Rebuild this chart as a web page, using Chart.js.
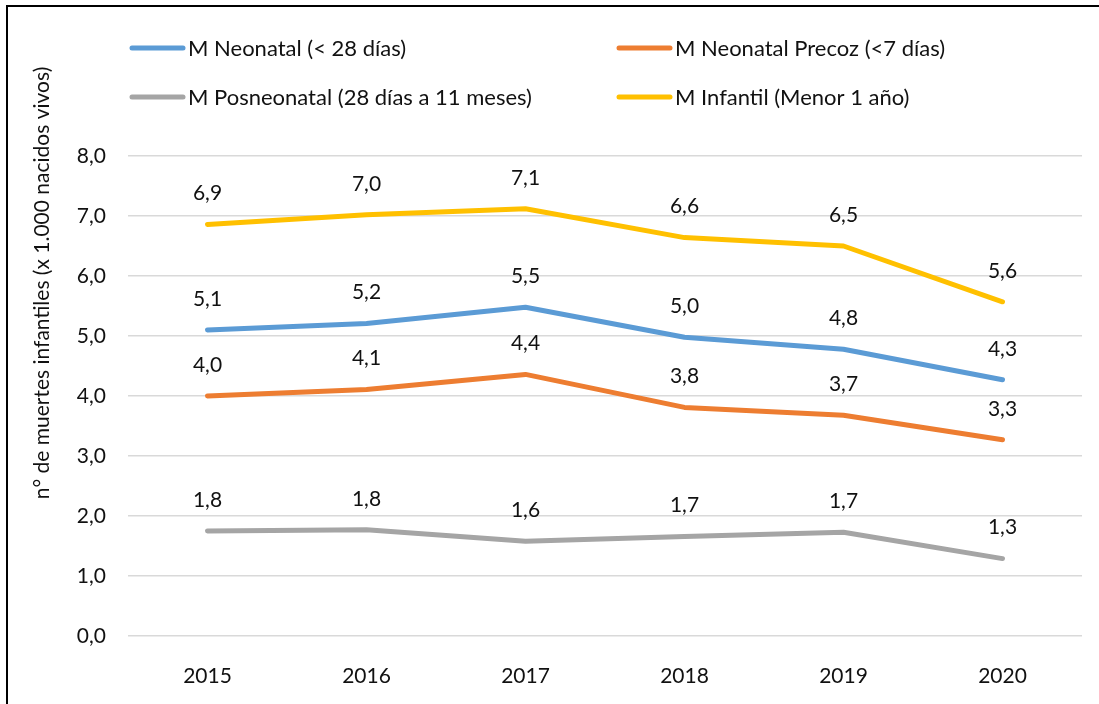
<!DOCTYPE html>
<html lang="es">
<head>
  <meta charset="UTF-8" />
  <title>Mortalidad infantil 2015-2020</title>
  <script src="https://cdn.jsdelivr.net/npm/chart.js"></script>
  <style>
    html, body { margin: 0; padding: 0; background: #fff; overflow: hidden; }
    #wrap { width: 1099px; height: 704px; position: relative; }
  </style>
</head>
<body>
  <div id="wrap"><canvas id="grafico"></canvas></div>

  <script>
    // datos
    const years = ['2015', '2016', '2017', '2018', '2019', '2020'];
    const neonatal = [5.10, 5.21, 5.48, 4.98, 4.78, 4.27];
    const precoz = [4.00, 4.11, 4.36, 3.81, 3.68, 3.27];
    const posneonatal = [1.75, 1.77, 1.58, 1.66, 1.73, 1.29];
    const infantil = [6.86, 7.02, 7.12, 6.64, 6.50, 5.57];
    const yTicks = [0, 1, 2, 3, 4, 5, 6, 7, 8];

    const FONT = 'Lato, "Open Sans", sans-serif';
    const fmt = v => v.toFixed(1).replace('.', ',');

    // borde, leyenda en dos columnas, título del eje y etiquetas de datos
    const decoracion = {
      id: 'decoracion',
      afterDraw(chart) {
        const ctx = chart.ctx;
        ctx.save();

        // borde del gráfico (solo arriba e izquierda quedan dentro de la imagen)
        ctx.fillStyle = '#000';
        ctx.fillRect(6, 5, 2, 699);
        ctx.fillRect(6, 5, 1093, 2);

        // leyenda
        const cols = [130, 617];
        const rows = [48, 97];
        ctx.font = '22px ' + FONT;
        ctx.textBaseline = 'middle';
        ctx.textAlign = 'left';
        chart.data.datasets.forEach((ds, i) => {
          const x = cols[i % 2], y = rows[Math.floor(i / 2)];
          ctx.strokeStyle = ds.borderColor;
          ctx.lineWidth = 5;
          ctx.lineCap = 'round';
          ctx.beginPath();
          ctx.moveTo(x + 2, y);
          ctx.lineTo(x + 53, y);
          ctx.stroke();
          ctx.fillStyle = '#111';
          ctx.fillText(ds.label, x + 58, y + 1);
        });

        // título eje Y
        ctx.translate(42, 283);
        ctx.rotate(-Math.PI / 2);
        ctx.textAlign = 'center';
        ctx.font = '21px ' + FONT;
        ctx.fillText('n° de muertes infantiles (x 1.000 nacidos vivos)', 0, 0);
        ctx.restore();

        // etiquetas de datos
        ctx.save();
        ctx.font = '21px ' + FONT;
        ctx.fillStyle = '#111';
        ctx.textAlign = 'center';
        ctx.textBaseline = 'middle';
        chart.data.datasets.forEach((ds, i) => {
          chart.getDatasetMeta(i).data.forEach((pt, j) => {
            ctx.fillText(fmt(ds.data[j]), pt.x, pt.y - 31);
          });
        });
        ctx.restore();
      }
    };

    const serie = (label, data, color) => ({
      label, data,
      borderColor: color,
      backgroundColor: color,
      borderWidth: 5,
      borderCapStyle: 'round',
      borderJoinStyle: 'round',
      pointRadius: 0,
      tension: 0
    });

    new Chart(document.getElementById('grafico'), {
      type: 'line',
      data: {
        labels: years,
        datasets: [
          serie('M Neonatal (< 28 días)', neonatal, '#5b9bd5'),
          serie('M Neonatal Precoz (<7 días)', precoz, '#ed7d31'),
          serie('M Posneonatal (28 días a 11 meses)', posneonatal, '#a5a5a5'),
          serie('M Infantil (Menor 1 año)', infantil, '#ffc000')
        ]
      },
      options: {
        responsive: true,
        maintainAspectRatio: false,
        animation: false,
        layout: { padding: { top: 156, right: 17, left: 0, bottom: 0 } },
        plugins: { legend: { display: false }, tooltip: { enabled: false } },
        scales: {
          x: {
            offset: true,
            grid: { display: false },
            border: { display: false },
            ticks: { color: '#111', font: { family: FONT, size: 21 }, padding: 20 },
            afterFit: s => { s.height = 68; }
          },
          y: {
            min: yTicks[0],
            max: yTicks[yTicks.length - 1],
            afterBuildTicks: s => { s.ticks = yTicks.map(v => ({ value: v })); },
            grid: { color: '#d9d9d9', lineWidth: 1.5, drawTicks: false },
            border: { display: false },
            ticks: {
              color: '#111',
              font: { family: FONT, size: 21 },
              padding: 22,
              callback: v => fmt(v)
            },
            afterFit: s => { s.width = 128; }
          }
        }
      },
      plugins: [decoracion]
    });
  </script>
</body>
</html>
